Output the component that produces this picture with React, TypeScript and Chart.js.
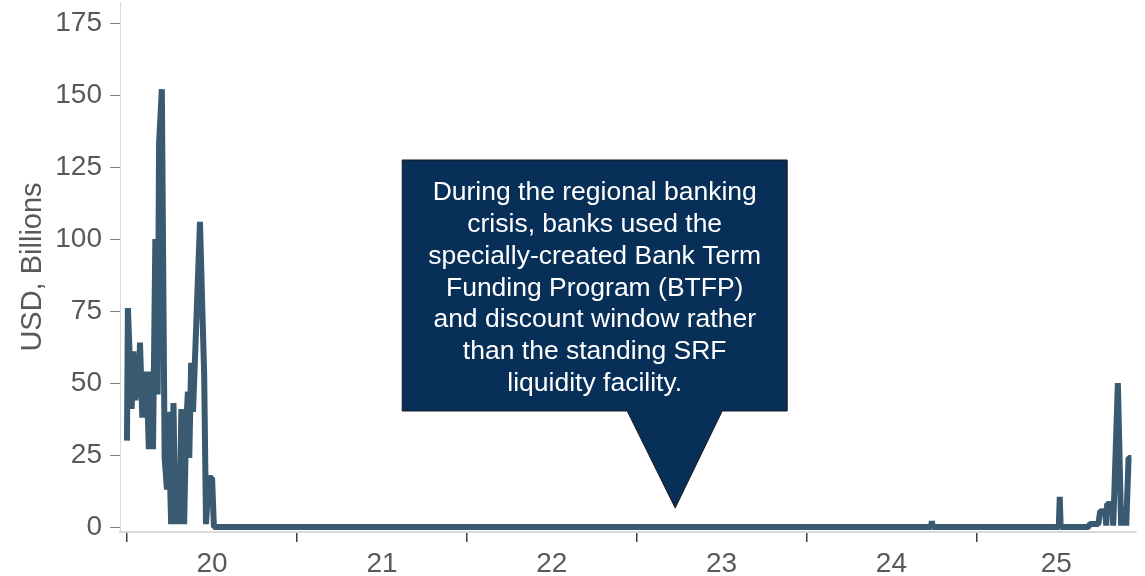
import React, { useEffect, useRef } from 'react';
import { Chart, registerables } from 'chart.js';

Chart.register(...registerables);

// Days since 2020-01-01 and SRF / repo usage (USD billions)
const DAYS = [
  0, 2, 10, 14, 18, 22, 25, 28, 33, 38, 42, 47, 53, 56, 61, 66, 69, 75, 81, 86,
  89, 95, 100, 104, 108, 113, 117, 123, 127, 131, 134, 138, 142, 146, 157, 162, 166, 170, 176, 183,
  187, 1729, 1731, 1733, 2004, 2006, 2008, 2067, 2071, 2089, 2093, 2104, 2106, 2108, 2119, 2121, 2123, 2131, 2138, 2140,
  2147, 2149, 2154, 2160,
];
const VALUES = [
  30, 76, 41, 61, 44, 59, 45, 64, 38, 46, 54, 27, 54, 27, 100, 46, 133, 152, 24, 13,
  40, 1, 43, 1, 21, 1, 41, 1, 34, 47, 24, 57, 40, 57, 106, 76, 53, 1, 17, 17,
  0, 0, 2, 0, 0, 10.5, 0, 0, 1, 1, 5.5, 5.5, 0.5, 8, 8, 0.5, 10, 50, 0.5, 6,
  6, 0.5, 24, 24,
];

// Year boundaries (days since 2020-01-01) and year labels centred between them
const YEAR_START_DAYS = [0, 366, 731, 1096, 1461, 1827, 2192];
const YEAR_LABELS = ['20', '21', '22', '23', '24', '25'];
const Y_TICKS = [0, 25, 50, 75, 100, 125, 150, 175];

const CALLOUT_LINES = [
  'During the regional banking',
  'crisis, banks used the',
  'specially-created Bank Term',
  'Funding Program (BTFP)',
  'and discount window rather',
  'than the standing SRF',
  'liquidity facility.',
];
const CALLOUT_ANCHOR_DAY = 1179;
const CALLOUT_ANCHOR_VALUE = 6.6;

const FONT_FAMILY = '"Liberation Sans", Arial, Helvetica, sans-serif';
const LINE_COLOR = '#395a70';
const TEXT_COLOR = '#595959';

const X_MIN = -15;
const X_MAX = 2170;

const yearTickDays = YEAR_START_DAYS.filter((d) => d >= X_MIN && d <= X_MAX);
const labelDays = YEAR_LABELS.map(
  (_, i) => (YEAR_START_DAYS[i] + Math.min(YEAR_START_DAYS[i + 1], X_MAX)) / 2,
);

const calloutPlugin = {
  id: 'callout',
  afterDraw(chart: any) {
    const { ctx, scales } = chart;
    const tx = scales.x.getPixelForValue(CALLOUT_ANCHOR_DAY);
    const ty = scales.y.getPixelForValue(CALLOUT_ANCHOR_VALUE);
    const left = tx - 273;
    const right = tx + 112;
    const top = ty - 348;
    const bottom = ty - 97;
    ctx.save();
    ctx.beginPath();
    ctx.moveTo(left, top);
    ctx.lineTo(right, top);
    ctx.lineTo(right, bottom);
    ctx.lineTo(tx + 47, bottom);
    ctx.lineTo(tx, ty);
    ctx.lineTo(tx - 48, bottom);
    ctx.lineTo(left, bottom);
    ctx.closePath();
    ctx.fillStyle = '#072f57';
    ctx.fill();
    ctx.lineWidth = 1;
    ctx.strokeStyle = '#1a1a1a';
    ctx.stroke();
    ctx.fillStyle = '#ffffff';
    ctx.font = `26.5px ${FONT_FAMILY}`;
    ctx.textAlign = 'center';
    ctx.textBaseline = 'middle';
    const cx = (left + right) / 2;
    CALLOUT_LINES.forEach((line, i) => {
      ctx.fillText(line, cx, top + 33 + i * 31.75);
    });
    ctx.restore();
  },
};

export default function App() {
  const canvasRef = useRef<HTMLCanvasElement | null>(null);

  useEffect(() => {
    const canvas = canvasRef.current;
    if (!canvas) return;
    const chart = new Chart(canvas, {
      type: 'line',
      data: {
        datasets: [
          {
            data: DAYS.map((d, i) => ({ x: d, y: VALUES[i] })),
            borderColor: LINE_COLOR,
            backgroundColor: LINE_COLOR,
            borderWidth: 6,
            borderJoinStyle: 'bevel',
            pointRadius: 0,
            tension: 0,
            fill: false,
          },
        ],
      },
      options: {
        animation: false,
        responsive: false,
        maintainAspectRatio: false,
        layout: { padding: { top: 2, right: 9, left: 0, bottom: 0 } },
        plugins: {
          legend: { display: false },
          tooltip: { enabled: false },
        },
        scales: {
          x: {
            type: 'linear',
            min: X_MIN,
            max: X_MAX,
            afterBuildTicks: (axis: any) => {
              const vals = [...yearTickDays, ...labelDays].sort((a, b) => a - b);
              axis.ticks = vals.map((v) => ({ value: v }));
            },
            afterFit: (axis: any) => {
              axis.height = 44;
              axis.paddingLeft = 0;
              axis.paddingRight = 0;
            },
            ticks: {
              autoSkip: false,
              maxRotation: 0,
              minRotation: 0,
              padding: 5,
              color: TEXT_COLOR,
              font: { size: 28, family: FONT_FAMILY },
              callback: (value: any) => {
                const idx = labelDays.findIndex((d) => Math.abs(d - value) < 0.01);
                return idx >= 0 ? YEAR_LABELS[idx] : '';
              },
            },
            grid: {
              drawOnChartArea: false,
              drawTicks: true,
              tickLength: 10,
              lineWidth: 1.5,
              color: (c: any) =>
                c.tick && yearTickDays.some((d) => Math.abs(d - c.tick.value) < 0.01)
                  ? '#404040'
                  : 'rgba(0,0,0,0)',
              tickColor: (c: any) =>
                c.tick && yearTickDays.some((d) => Math.abs(d - c.tick.value) < 0.01)
                  ? '#404040'
                  : 'rgba(0,0,0,0)',
            },
            border: { display: true, color: '#d9d9d9', width: 2 },
          },
          y: {
            min: -1.736,
            max: 182.3,
            afterBuildTicks: (axis: any) => {
              axis.ticks = Y_TICKS.map((v) => ({ value: v }));
            },
            afterFit: (axis: any) => {
              axis.width = 120;
              axis.paddingTop = 0;
              axis.paddingBottom = 0;
            },
            ticks: {
              padding: 8,
              color: TEXT_COLOR,
              font: { size: 28, family: FONT_FAMILY },
            },
            grid: {
              drawOnChartArea: false,
              drawTicks: true,
              tickLength: 10,
              color: '#7f7f7f',
              tickColor: '#7f7f7f',
            },
            border: { display: true, color: '#d9d9d9', width: 1 },
            title: {
              display: true,
              text: 'USD, Billions',
              color: TEXT_COLOR,
              font: { size: 29, family: FONT_FAMILY },
              padding: { top: 16, bottom: 0 },
            },
          },
        },
      },
      plugins: [calloutPlugin],
    } as any);
    return () => chart.destroy();
  }, []);

  return (
    <div style={{ position: 'fixed', left: 0, top: 0, width: 1145, height: 576, background: '#fff' }}>
      <canvas ref={canvasRef} width={1145} height={576} style={{ display: 'block', width: 1145, height: 576 }} />
    </div>
  );
}
